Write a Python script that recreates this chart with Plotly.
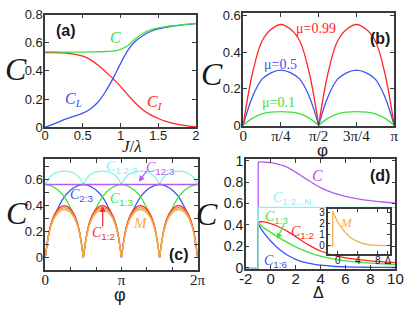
import numpy as np
import plotly.graph_objects as go

W, H = 415, 311
PI = np.pi

# ---------------- Panel (a) ----------------
J = [0, 0.1, 0.2, 0.3, 0.4, 0.5, 0.6, 0.7, 0.8, 0.9, 1.0, 1.1, 1.2, 1.3, 1.4, 1.5, 1.6, 1.7, 1.8, 1.9, 2.0]
a_C = [0.535, 0.535, 0.534, 0.534, 0.534, 0.534, 0.535, 0.536, 0.538, 0.541, 0.553, 0.580, 0.630,
       0.668, 0.692, 0.706, 0.715, 0.721, 0.727, 0.732, 0.736]
a_CL = [0.0, 0.02, 0.042, 0.062, 0.080, 0.100, 0.130, 0.177, 0.252, 0.345, 0.452, 0.548, 0.612,
        0.652, 0.680, 0.698, 0.710, 0.719, 0.726, 0.731, 0.736]
a_CI = [0.530, 0.530, 0.528, 0.525, 0.518, 0.505, 0.480, 0.442, 0.395, 0.345, 0.290, 0.228, 0.170,
        0.123, 0.088, 0.062, 0.042, 0.027, 0.016, 0.008, 0.003]

# ---------------- Panel (b) ----------------
phi_b = [k * PI / 16 for k in range(17)]
b_mu099 = [0, 0.288, 0.462, 0.528, 0.553, 0.528, 0.462, 0.288, 0,
           0.288, 0.462, 0.528, 0.553, 0.528, 0.462, 0.288, 0]
b_mu05 = [0, 0.158, 0.253, 0.289, 0.303, 0.289, 0.253, 0.158, 0,
          0.158, 0.253, 0.289, 0.303, 0.289, 0.253, 0.158, 0]
b_mu01 = [0, 0.039, 0.063, 0.072, 0.075, 0.072, 0.063, 0.039, 0,
          0.039, 0.063, 0.072, 0.075, 0.072, 0.063, 0.039, 0]
b_cusps = [8]

# ---------------- Panel (c) ----------------
phi_c = [k * PI / 16 for k in range(33)]
c_C23 = [0, 0.224, 0.325, 0.403, 0.465, 0.507, 0.535, 0.554, 0.56, 0.554, 0.535, 0.507, 0.465, 0.403, 0.325, 0.224, 0,
         0.224, 0.325, 0.403, 0.465, 0.507, 0.535, 0.554, 0.56, 0.554, 0.535, 0.507, 0.465, 0.403, 0.325, 0.224, 0]
c_C13 = [0.56, 0.554, 0.535, 0.507, 0.465, 0.403, 0.325, 0.224, 0, 0.224, 0.325, 0.403, 0.465, 0.507, 0.535, 0.554, 0.56,
         0.554, 0.535, 0.507, 0.465, 0.403, 0.325, 0.224, 0, 0.224, 0.325, 0.403, 0.465, 0.507, 0.535, 0.554, 0.56]
c_C12 = [0, 0.231, 0.334, 0.382, 0.398, 0.382, 0.334, 0.231, 0, 0.231, 0.334, 0.382, 0.398, 0.382, 0.334, 0.231, 0,
         0.231, 0.334, 0.382, 0.398, 0.382, 0.334, 0.231, 0, 0.231, 0.334, 0.382, 0.398, 0.382, 0.334, 0.231, 0]
c_Mdark = [0, 0.222, 0.322, 0.368, 0.383, 0.368, 0.322, 0.222, 0, 0.222, 0.322, 0.368, 0.383, 0.368, 0.322, 0.222, 0,
           0.222, 0.322, 0.368, 0.383, 0.368, 0.322, 0.222, 0, 0.222, 0.322, 0.368, 0.383, 0.368, 0.322, 0.222, 0]
c_M = [0, 0.213, 0.309, 0.353, 0.368, 0.353, 0.309, 0.213, 0, 0.213, 0.309, 0.353, 0.368, 0.353, 0.309, 0.213, 0,
       0.213, 0.309, 0.353, 0.368, 0.353, 0.309, 0.213, 0, 0.213, 0.309, 0.353, 0.368, 0.353, 0.309, 0.213, 0]
c_C123 = [0.56, 0.620, 0.647, 0.659, 0.663, 0.659, 0.647, 0.620, 0.56, 0.620, 0.647, 0.659, 0.663, 0.659, 0.647, 0.620, 0.56,
          0.620, 0.647, 0.659, 0.663, 0.659, 0.647, 0.620, 0.56, 0.620, 0.647, 0.659, 0.663, 0.659, 0.647, 0.620, 0.56]
c_C12_3 = [0.56] * 33
c_cusps_quarter = [8, 16, 24]
c_cusps_23 = [16]
c_cusps_13 = [8, 24]

# ---------------- Panel (d) ----------------
delta_pre = [-2, -1]
pre_val = [0.0, 0.0]
delta = [-1, -0.75, -0.5, 0, 0.5, 1, 1.5, 2, 2.5, 3, 3.5, 4, 5, 6, 7, 8, 9, 10]
d_C = [0.99, 0.99, 0.988, 0.983, 0.972, 0.955, 0.93, 0.895, 0.857, 0.818, 0.782, 0.75, 0.70, 0.668, 0.645, 0.628, 0.615, 0.605]
d_CN = [0.565] * 18
d_C12 = [0.424, 0.43, 0.428, 0.412, 0.39, 0.362, 0.328, 0.29, 0.252, 0.215, 0.183, 0.156, 0.117, 0.092, 0.075, 0.063, 0.054, 0.047]
d_C13 = [0.42, 0.392, 0.368, 0.33, 0.292, 0.258, 0.225, 0.195, 0.168, 0.145, 0.125, 0.108, 0.082, 0.064, 0.051, 0.042, 0.035, 0.03]
d_C16 = [0.41, 0.36, 0.318, 0.25, 0.192, 0.145, 0.107, 0.078, 0.057, 0.042, 0.031, 0.023, 0.013, 0.008, 0.005, 0.003, 0.002, 0.001]
delta_m = [-1, -0.5, 0, 0.5, 1, 1.5, 2, 2.5, 3, 3.5, 4, 5, 6, 7, 8, 9, 10]
d_M = [3.1, 2.62, 2.15, 1.8, 1.5, 1.22, 0.98, 0.78, 0.62, 0.49, 0.37, 0.21, 0.11, 0.065, 0.04, 0.02, 0.01]

# colours
RED = '#ff2626'
BLUE = '#3c55f2'
GREEN = '#3ee23e'
CYAN = '#86f2ea'
PURPLE = '#b45cf2'
ORANGE = '#f6ad4a'
DORANGE = '#ee8a30'
FRAME = '#3a3a3a'


def split(x, y, cusps):
    xs, ys = [], []
    for i, (xx, yy) in enumerate(zip(x, y)):
        xs.append(xx)
        ys.append(yy)
        if i in cusps:
            xs += [None, xx]
            ys += [None, yy]
    return xs, ys


fig = go.Figure()


def add(x, y, color, ax, shape='spline', width=1.3):
    fig.add_trace(go.Scatter(x=x, y=y, mode='lines', line=dict(color=color, width=width, shape=shape),
                             xaxis='x' + ax, yaxis='y' + ax, hoverinfo='skip', showlegend=False))


# (a)
add(J, a_CI, RED, '')
add(J, a_CL, BLUE, '')
add(J, a_C, GREEN, '')

# (b)
for vals, col in [(b_mu01, GREEN), (b_mu05, BLUE), (b_mu099, RED)]:
    xs, ys = split(phi_b, vals, b_cusps)
    add(xs, ys, col, '2')

# (c)
xs, ys = split(phi_c, c_C123, c_cusps_quarter); add(xs, ys, CYAN, '3')
xs, ys = split(phi_c, c_C23, c_cusps_23); add(xs, ys, BLUE, '3')
xs, ys = split(phi_c, c_C13, c_cusps_13); add(xs, ys, GREEN, '3')
xs, ys = split(phi_c, c_C12, c_cusps_quarter); add(xs, ys, RED, '3')
xs, ys = split(phi_c, c_Mdark, c_cusps_quarter); add(xs, ys, DORANGE, '3')
xs, ys = split(phi_c, c_M, c_cusps_quarter); add(xs, ys, ORANGE, '3')
add(phi_c, c_C12_3, PURPLE, '3', shape='linear', width=1.6)

# (d)
for vals, col in [(d_C, PURPLE), (d_C16, BLUE), (d_C13, GREEN), (d_C12, RED), (d_CN, CYAN)]:
    add(delta_pre + [delta[0]], pre_val + [vals[0]], col, '4', shape='linear')
    add(delta, vals, col, '4')

# inset
add(delta_pre + [delta_m[0]], pre_val + [d_M[0]], ORANGE, '5', shape='linear')
add(delta_m, d_M, ORANGE, '5')


def ax_style(**kw):
    d = dict(showline=True, linecolor=FRAME, linewidth=1.5, mirror='ticks', ticks='inside', ticklen=4,
             tickcolor=FRAME, tickwidth=1, showgrid=False, zeroline=False,
             tickfont=dict(family='Liberation Sans, Arial', size=13, color='#1a1a1a'))
    d.update(kw)
    return d


def dx(a, b):
    return [a / W, b / W]


def dy(top, bot):
    return [1 - bot / H, 1 - top / H]


serif_tick = dict(family='Liberation Serif, Times New Roman', size=15, color='#1a1a1a')
minor_c_x = dict(tickvals=[PI / 3, 2 * PI / 3, 4 * PI / 3, 5 * PI / 3], ticks='inside', ticklen=4,
                 tickcolor=FRAME, showgrid=False)
minor_c_y = dict(tickvals=[-0.1, 0.1, 0.3, 0.5, 0.7], ticks='inside', ticklen=4,
                 tickcolor=FRAME, showgrid=False)
XS = -5   # x tick labels closer to the frame
YS = -2

layout = dict(
    width=W, height=H, margin=dict(l=0, r=0, t=0, b=0),
    paper_bgcolor='white', plot_bgcolor='white', showlegend=False,
    xaxis=ax_style(domain=dx(39.5, 196), anchor='y', range=[0, 2], ticklabelstandoff=XS,
                   tickvals=[0, 0.5, 1, 1.5, 2], ticktext=['0', '0.5', '1', '1.5', '2']),
    yaxis=ax_style(domain=dy(8, 126.3), anchor='x', range=[0, 0.8], ticklabelstandoff=YS,
                   tickvals=[0, 0.2, 0.4, 0.6, 0.8], ticktext=['0', '0.2', '0.4', '0.6', '0.8']),
    xaxis2=ax_style(domain=dx(245, 401.7), anchor='y2', range=[0, PI], ticklabelstandoff=XS,
                    tickvals=[0, PI / 4, PI / 2, 3 * PI / 4, PI],
                    ticktext=['0', 'π/4', 'π/2', '3π/4', 'π'], tickfont=serif_tick),
    yaxis2=ax_style(domain=dy(6.5, 124.8), anchor='x2', range=[-0.003, 0.615], ticklabelstandoff=YS,
                    tickvals=[0, 0.2, 0.4, 0.6], ticktext=['0', '0.2', '0.4', '0.6']),
    xaxis3=ax_style(domain=dx(39.7, 197.8), anchor='y3', range=[0, 2 * PI], ticklabelstandoff=XS,
                    tickvals=[0, PI, 2 * PI], ticktext=['0', 'π', '2π'], tickfont=serif_tick,
                    minor=minor_c_x),
    yaxis3=ax_style(domain=dy(160, 276.7), anchor='x3', range=[-0.1, 0.754], ticklabelstandoff=YS,
                    tickvals=[0, 0.2, 0.4, 0.6], ticktext=['0', '0.2', '0.4', '0.6'],
                    minor=minor_c_y),
    xaxis4=ax_style(domain=dx(247.7, 403), anchor='y4', range=[-2, 10], ticklabelstandoff=XS,
                    tickvals=[-2, 0, 2, 4, 6, 8, 10],
                    ticktext=['-2', '0', '2', '4', '6', '8', '10'],
                    tickfont=dict(family='Liberation Sans, Arial', size=15, color='#1a1a1a')),
    yaxis4=ax_style(domain=dy(160, 275.3), anchor='x4', range=[-0.013, 1.015], ticklabelstandoff=YS,
                    tickvals=[0, 0.2, 0.4, 0.6, 0.8, 1.0],
                    ticktext=['0', '0.2', '0.4', '0.6', '0.8', '1'],
                    tickfont=dict(family='Liberation Sans, Arial', size=14, color='#1a1a1a')),
    xaxis5=ax_style(domain=dx(332.7, 397.3), anchor='y5', range=[-2, 10.4], ticklabelstandoff=-3,
                    tickvals=[0, 4, 8, 10], ticktext=['0', '4', '8', 'Δ'], ticklen=3,
                    tickfont=dict(family='Liberation Sans, Arial', size=10, color='#1a1a1a')),
    yaxis5=ax_style(domain=dy(212, 259), anchor='x5', range=[-0.7, 3.35], ticklabelstandoff=-1,
                    tickvals=[0, 1, 2, 3], ticktext=['0', '1', '2', '3'], ticklen=3,
                    tickfont=dict(family='Liberation Sans, Arial', size=10, color='#1a1a1a')),
)
fig.update_layout(**layout)

SERIF = 'Liberation Serif, Times New Roman, serif'
SANS = 'Liberation Sans, Arial, sans-serif'


def note(text, x, y, size, color='#1a1a1a', family=SERIF):
    fig.add_annotation(text=text, x=x / W, y=1 - y / H, xref='paper', yref='paper',
                       xanchor='center', yanchor='middle', showarrow=False, borderpad=0,
                       font=dict(family=family, size=size, color=color))


def arrow(tail, tip, color):
    fig.add_annotation(text='', x=tip[0] / W, y=1 - tip[1] / H, xref='paper', yref='paper',
                       ax=tail[0] - tip[0], ay=tail[1] - tip[1], showarrow=True,
                       arrowhead=2, arrowsize=1, arrowwidth=1.2, arrowcolor=color, standoff=0)


def sub(s):
    return "<sub><span style='font-family:Liberation Sans, Arial'>" + s + "</span></sub>"


# axis titles
for (x, y) in [(9, 65), (213, 70), (10, 216), (207, 217)]:
    note('<i>C</i>', x, y, 32)
note('<i>J</i>/<i>λ</i>', 130, 146.5, 17)
note('φ', 327, 151, 17, family=SANS)
note('φ', 117, 302.5, 18, family=SANS)
note('Δ', 323, 300, 16, family=SANS)

# panel letters
note('<b>(a)</b>', 61, 25, 16, family=SANS)
note('<b>(b)</b>', 387.5, 33, 16, family=SANS)
note('<b>(c)</b>', 178, 260, 16, family=SANS)
note('<b>(d)</b>', 387, 177, 16, family=SANS)

# (a) labels
note('<i>C</i>', 113, 32, 16, GREEN)
note('<i>C</i><sub><i>L</i></sub>', 69, 97, 16, BLUE)
note('<i>C</i><sub><i>I</i></sub>', 154, 100, 16, RED)

# (b) labels
note('μ=0.99', 321, 23, 14, RED)
note('μ=0.5', 283.5, 60, 14, BLUE)
note('μ=0.1', 281.5, 100, 14, GREEN)

# (c) labels
note('<i>C</i>' + sub('1:2:3'), 119, 169, 14, CYAN)
note('<i>C</i>' + sub('12:3'), 159, 170, 14, PURPLE)
arrow((146, 171), (136.7, 183.5), PURPLE)
note('<i>C</i>' + sub('2:3'), 77.5, 198, 14, BLUE)
note('<i>C</i>' + sub('1:3'), 119, 202, 14, GREEN)
note('<i>C</i>' + sub('1:2'), 100, 237.5, 14, RED)
arrow((99.3, 231), (99.3, 209), RED)
note('<i>M</i>', 139, 227, 15, ORANGE)

# (d) labels
note('<i>C</i>', 322, 177.5, 16, PURPLE)
note('<i>C</i>' + sub('1:2...N'), 295.5, 201, 14, CYAN)
note('<i>C</i>' + sub('1:3'), 280, 221, 14, GREEN)
arrow((288, 227.5), (280, 244), GREEN)
note('<i>C</i>' + sub('1:2'), 307, 237, 14, RED)
note('<i>C</i>' + sub('1:6'), 279, 267, 14, BLUE)
note('<i>M</i>', 352, 226.5, 13, ORANGE)

fig.write_html('out.html', config={'displayModeBar': False},
               post_script="document.body.style.margin='0px';document.body.style.padding='0px';")
